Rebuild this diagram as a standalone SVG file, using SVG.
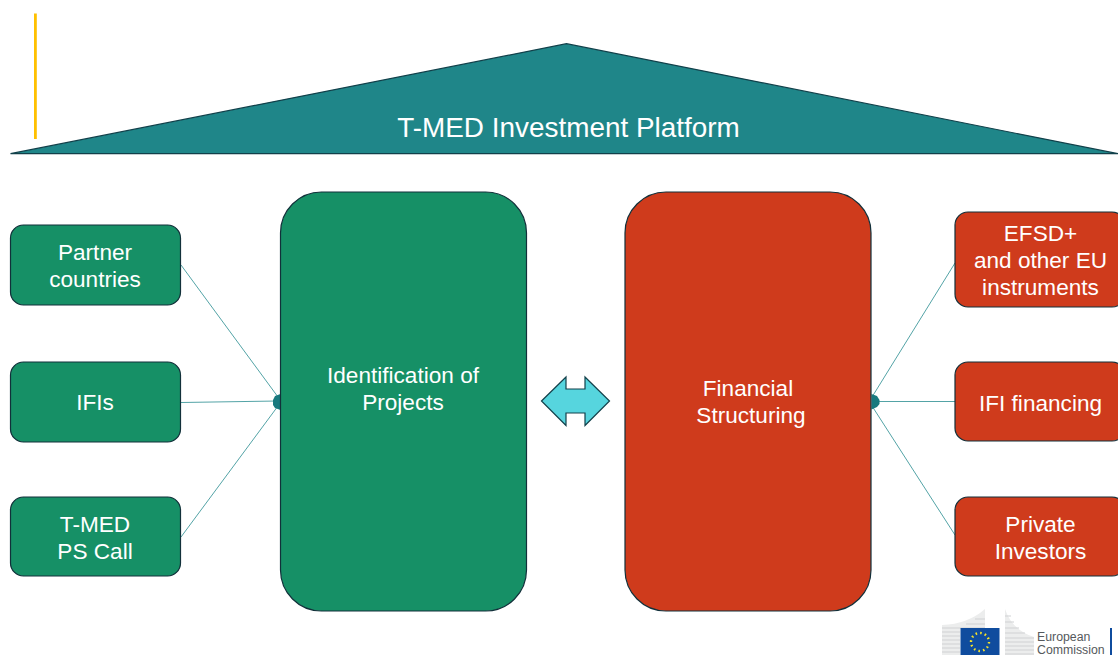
<svg xmlns="http://www.w3.org/2000/svg" width="1118" height="655" viewBox="0 0 1118 655">
<style>
text{font-family:"Liberation Sans",Arial,sans-serif;fill:#fff;font-size:22.600px;text-anchor:middle}
.g{fill:#169066;stroke:#12303a;stroke-width:1.200}
.r{fill:#cf3b1c;stroke:#12303a;stroke-width:1.200}
.c{stroke:#3f989c;stroke-width:.9;fill:none}
.d{fill:#17797e}
.e{font-size:12.300px;fill:#55595d;text-anchor:start;font-weight:500}
.s{stroke:#d0d2d4;fill:none;stroke-width:1.100}
</style>
<rect width="1118" height="655" fill="#fff"/>
<rect id="accent" x="34" y="13.500" width="2.800" height="125.500" fill="#ffc000"/>
<g id="platform"><polygon points="10.500,153.700 566.500,43.700 1118,153.700" fill="#1f8689" stroke="#11404a" stroke-width="1.200"/><text x="568.500" y="137" style="font-size:27.900px">T-MED Investment Platform</text></g>
<g id="connectors">
<line class="c" x1="181" y1="265" x2="278" y2="397"/>
<line class="c" x1="181" y1="402.500" x2="278" y2="401"/>
<line class="c" x1="181" y1="537" x2="278" y2="406"/>
<line class="c" x1="872" y1="397" x2="955" y2="263"/>
<line class="c" x1="872" y1="401.500" x2="955" y2="401.500"/>
<line class="c" x1="872" y1="406" x2="955" y2="535"/>
<path class="d" d="M280.500 394 L275 396 L273 400 L273 405 L275 408 L280.500 410 Z"/>
<path class="d" d="M871.500 394 L877 396 L879.500 400 L879.500 404 L877 407 L871.500 409.500 Z"/>
</g>
<g id="partner"><rect class="g" x="10.500" y="225" width="170" height="80" rx="13"/><text x="95" y="260">Partner</text><text x="95" y="287">countries</text></g>
<g id="ifis"><rect class="g" x="10.500" y="362" width="170" height="80" rx="13"/><text x="95" y="410">IFIs</text></g>
<g id="tmed"><rect class="g" x="10.500" y="497" width="170" height="79" rx="13"/><text x="95" y="532">T-MED</text><text x="95" y="559">PS Call</text></g>
<g id="identification"><rect class="g" x="280.500" y="192" width="246" height="419" rx="41"/><text x="403" y="383">Identification of</text><text x="403" y="410">Projects</text></g>
<g id="arrow"><polygon points="541.500,401 566,377 566,389 585,389 585,377 609.500,401 585,425.500 585,413 566,413 566,425.500" fill="#56d5de" stroke="#12404a" stroke-width="1.200"/></g>
<g id="financial"><rect class="r" x="625" y="192" width="246" height="419" rx="41"/><text x="748" y="396">Financial</text><text x="751" y="423">Structuring</text></g>
<g id="efsd"><rect class="r" x="955" y="212" width="170" height="95" rx="13"/><text x="1040.500" y="241">EFSD+</text><text x="1040.500" y="268">and other EU</text><text x="1040.500" y="295">instruments</text></g>
<g id="ifi-financing"><rect class="r" x="955" y="362" width="170" height="79" rx="13"/><text x="1040.500" y="411">IFI financing</text></g>
<g id="private"><rect class="r" x="955" y="497" width="170" height="79" rx="13"/><text x="1040.500" y="532">Private</text><text x="1040.500" y="559">Investors</text></g>
<g id="logo">
<path d="M942 625 Q968 624 985 609 V628 H960 V655 H942 Z" fill="#eceded"/>
<path d="M1005 609 Q1012 630 1034 637 V655 H1005 Z" fill="#eceded"/>
<path class="s" d="M942 628H985M942 632H960M942 636H960M942 640H960M942 644H960M942 648H960M942 652H960M966 624H985M975 619H985M1005 616H1011M1005 622H1014M1005 628H1019M1005 633H1025M1005 638H1034M1005 642H1034M1005 646H1034M1005 650H1034M1005 654H1034"/>
<rect x="960.500" y="628" width="39" height="27" fill="#0f4c9e"/>
<circle cx="980" cy="642" r="9" fill="none" stroke="#f5e32a" stroke-width="2.400" stroke-dasharray="1.600 3.100"/>
<rect x="1110" y="628" width="2" height="27" fill="#0f4c9e"/>
<text class="e" x="1037" y="641" style="font-size:12.300px">European</text>
<text class="e" x="1037" y="654" style="font-size:12.300px">Commission</text>
</g>
</svg>
